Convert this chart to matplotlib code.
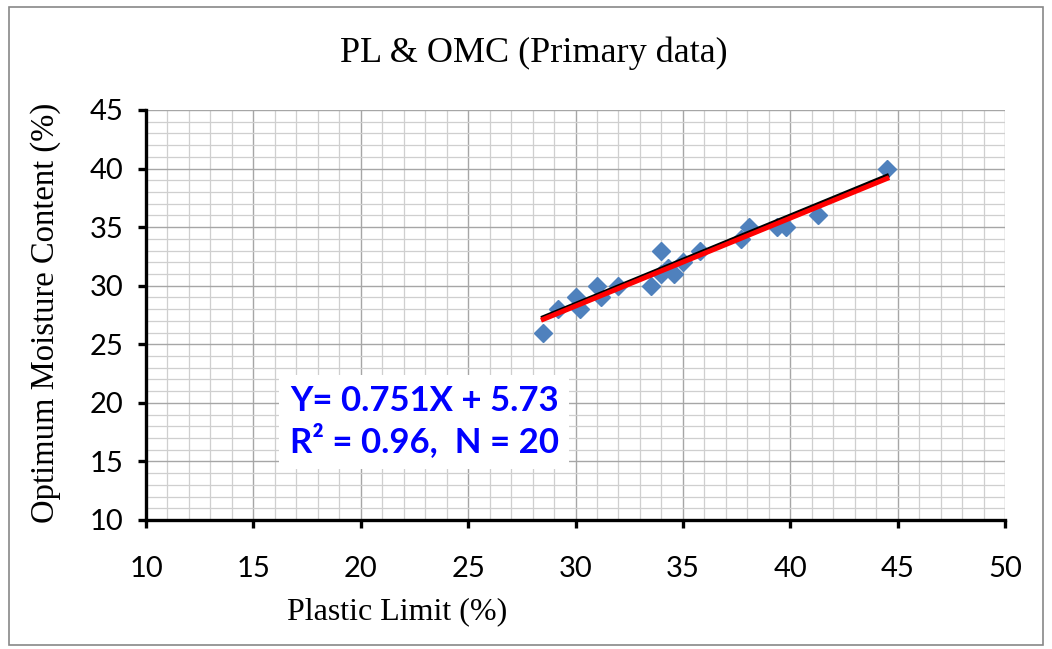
import matplotlib
matplotlib.use("Agg")
import matplotlib.pyplot as plt
import numpy as np
from matplotlib.ticker import MultipleLocator
from matplotlib.patches import Rectangle

# data
pl = [28.5, 29.2, 30.0, 30.2, 31.0, 31.2, 32.0, 33.5, 34.0, 34.0,
      34.3, 34.6, 35.0, 35.8, 37.7, 38.1, 39.4, 39.8, 41.3, 44.5]
omc = [26, 28, 29, 28, 30, 29, 30, 30, 33, 31,
       31.5, 31, 32, 33, 34, 35, 35, 35, 36, 40]
slope, icpt = 0.751, 5.73

fig = plt.figure(figsize=(10.52, 6.49), dpi=100)
ax = fig.add_axes([146/1052, 1-520/649, (1005-146)/1052, (520-110)/649])

# outer chart frame
fig.patches.append(Rectangle((9/1052, 1-645/649), 1034/1052, 638/649,
                             transform=fig.transFigure, fill=False,
                             ec='#888888', lw=1.2))

ax.set_xlim(10, 50)
ax.set_ylim(10, 45)
ax.xaxis.set_major_locator(MultipleLocator(5))
ax.yaxis.set_major_locator(MultipleLocator(5))
ax.xaxis.set_minor_locator(MultipleLocator(1))
ax.yaxis.set_minor_locator(MultipleLocator(1))
ax.grid(which='major', color='#a6a6a6', lw=1.0)
ax.grid(which='minor', color='#cfcfcf', lw=0.9)
ax.set_axisbelow(True)

for s in ['top', 'right']:
    ax.spines[s].set_visible(False)
for s in ['left', 'bottom']:
    ax.spines[s].set_linewidth(2.4)

ax.tick_params(which='major', direction='out', length=6, width=2.4,
               labelsize=21, pad=10)
ax.tick_params(axis='x', which='major', pad=20)
ax.tick_params(which='minor', length=0)
for lab in ax.get_xticklabels() + ax.get_yticklabels():
    lab.set_family('Lato')

# trend lines: least squares fit (black) and reported equation (red)
xs = np.array([min(pl), max(pl)])
b1, b0 = np.polyfit(pl, omc, 1)
ax.plot(xs, b1*xs + b0 + 0.15, color='black', lw=3.2, zorder=3)
ax.plot(xs, slope*xs + icpt, color='#ff0000', lw=3.6, zorder=4)
ax.plot(pl, omc, 'D', color='#4f81bd', ms=9, mec='#4f81bd', zorder=2)

serif = 'Liberation Serif'
fig.text(534/1052, 1-53/649, 'PL & OMC (Primary data)', ha='center',
         va='center', family=serif, fontsize=26)
fig.text(397/1052, 1-612/649, 'Plastic Limit (%)', ha='center', va='center',
         family=serif, fontsize=23)
fig.text(46/1052, 1-313/649, 'Optimum Moisture Content (%)', ha='center',
         va='center', rotation=90, family=serif, fontsize=23.5)

ax.text(22.95, 18.4, 'Y= 0.751X + 5.73\nR² = 0.96,  N = 20', ha='center',
        va='center', color='#0000ff', fontsize=25, fontweight='bold',
        family='Lato', linespacing=1.22,
        bbox=dict(boxstyle='square,pad=0.3', fc='white', ec='none'))

fig.savefig('out.png', dpi=100)
